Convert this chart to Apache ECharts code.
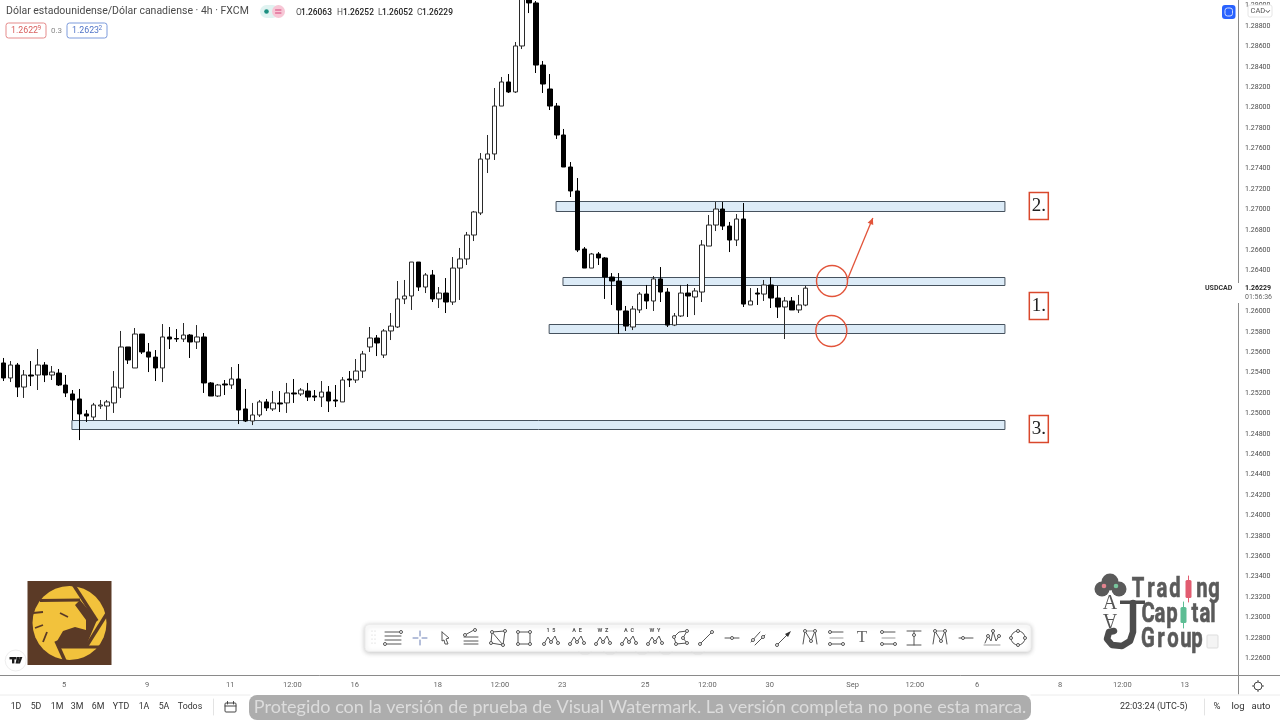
<!DOCTYPE html>
<html>
<head>
<meta charset="utf-8">
<title>USDCAD 4h</title>
<script src="https://cdn.jsdelivr.net/npm/echarts@6/dist/echarts.min.js"></script>
<style>
html, body { margin: 0; padding: 0; background: #fff; }
#chart { width: 1280px; height: 720px; }
</style>
</head>
<body>
<div id="chart"></div>
<script>
// velas de 4h
var opens = [
    1.25495, 1.25348, 1.25475, 1.25259, 1.25377, 1.25377, 1.25475, 1.25377, 1.25396, 1.25279,
    1.25191, 1.25142, 1.24995, 1.24965, 1.25073, 1.25073, 1.25103, 1.25249, 1.25652, 1.25446,
    1.25779, 1.25603, 1.25553, 1.25446, 1.25750, 1.25735, 1.25730, 1.25769, 1.25701, 1.25750,
    1.25299, 1.25171, 1.25289, 1.25279, 1.25338, 1.25044, 1.24926, 1.24985, 1.25113, 1.25044,
    1.25103, 1.25103, 1.25201, 1.25191, 1.25220, 1.25171, 1.25161, 1.25210, 1.25132, 1.25113,
    1.25338, 1.25328, 1.25416, 1.25652, 1.25740, 1.25573, 1.25809, 1.25848, 1.26123, 1.26152,
    1.26485, 1.26240, 1.26358, 1.26123, 1.26181, 1.26093, 1.26426, 1.26515, 1.26750, 1.26966,
    1.27495, 1.27545, 1.28015, 1.28251, 1.28153, 1.28604, 1.29065, 1.29026, 1.28417, 1.28182,
    1.28015, 1.27731, 1.27417, 1.27182, 1.26613, 1.26426, 1.26564, 1.26525, 1.26338, 1.26299,
    1.26005, 1.25848, 1.26015, 1.26171, 1.26103, 1.26319, 1.26191, 1.25867, 1.25956, 1.26181,
    1.26142, 1.26191, 1.26642, 1.26848, 1.27005, 1.26838, 1.26701, 1.26907, 1.26064, 1.26181,
    1.26171, 1.26260, 1.26132, 1.26044, 1.26103, 1.26015, 1.26063
];
var highs = [
    1.25544, 1.25514, 1.25495, 1.25426, 1.25514, 1.25632, 1.25504, 1.25465, 1.25436, 1.25377,
    1.25230, 1.25240, 1.25034, 1.25103, 1.25132, 1.25132, 1.25416, 1.25809, 1.25652, 1.25838,
    1.25779, 1.25691, 1.25622, 1.25877, 1.25848, 1.25828, 1.25887, 1.25779, 1.25867, 1.25789,
    1.25308, 1.25289, 1.25328, 1.25455, 1.25485, 1.25240, 1.25103, 1.25132, 1.25142, 1.25220,
    1.25220, 1.25299, 1.25338, 1.25249, 1.25299, 1.25230, 1.25318, 1.25269, 1.25279, 1.25357,
    1.25416, 1.25534, 1.25613, 1.25848, 1.25769, 1.25828, 1.25985, 1.26299, 1.26309, 1.26485,
    1.26485, 1.26377, 1.26407, 1.26240, 1.26328, 1.26534, 1.26623, 1.26780, 1.26986, 1.27554,
    1.27731, 1.28192, 1.28300, 1.28329, 1.28643, 1.29202, 1.29104, 1.29045, 1.28457, 1.28329,
    1.28045, 1.27790, 1.27466, 1.27309, 1.26632, 1.26574, 1.26583, 1.26534, 1.26377, 1.26377,
    1.26054, 1.26054, 1.26191, 1.26260, 1.26348, 1.26436, 1.26230, 1.25985, 1.26260, 1.26269,
    1.26230, 1.26701, 1.26946, 1.27074, 1.27074, 1.26878, 1.26956, 1.27064, 1.26230, 1.26230,
    1.26309, 1.26338, 1.26250, 1.26142, 1.26142, 1.26162, 1.26252
];
var lows = [
    1.25318, 1.25308, 1.25161, 1.25152, 1.25269, 1.25230, 1.25308, 1.25328, 1.25269, 1.25161,
    1.24935, 1.24739, 1.24916, 1.24935, 1.25044, 1.24935, 1.25005, 1.25152, 1.25485, 1.25446,
    1.25583, 1.25406, 1.25318, 1.25308, 1.25632, 1.25701, 1.25701, 1.25544, 1.25632, 1.25201,
    1.25171, 1.25161, 1.25181, 1.25240, 1.24896, 1.24916, 1.24886, 1.24965, 1.25024, 1.25024,
    1.25014, 1.25005, 1.25103, 1.25171, 1.25122, 1.25122, 1.25063, 1.25014, 1.25063, 1.25113,
    1.25259, 1.25299, 1.25348, 1.25603, 1.25563, 1.25544, 1.25720, 1.25838, 1.26073, 1.26015,
    1.26201, 1.26181, 1.26093, 1.26034, 1.25985, 1.26064, 1.26113, 1.26456, 1.26691, 1.26946,
    1.27358, 1.27486, 1.28015, 1.28143, 1.28143, 1.28574, 1.28927, 1.28339, 1.28143, 1.27976,
    1.27692, 1.27417, 1.27123, 1.26583, 1.26426, 1.26426, 1.26456, 1.26123, 1.26064, 1.25779,
    1.25809, 1.25818, 1.25985, 1.26024, 1.26005, 1.26093, 1.25848, 1.25857, 1.25946, 1.25946,
    1.25965, 1.26093, 1.26642, 1.26789, 1.26799, 1.26583, 1.26642, 1.26044, 1.26064, 1.26064,
    1.26103, 1.26034, 1.25936, 1.25730, 1.26015, 1.25985, 1.26052
];
var closes = [
    1.25348, 1.25475, 1.25259, 1.25377, 1.25367, 1.25475, 1.25377, 1.25406, 1.25279, 1.25201,
    1.25132, 1.24995, 1.24975, 1.25083, 1.25083, 1.25113, 1.25259, 1.25652, 1.25524, 1.25779,
    1.25603, 1.25553, 1.25446, 1.25750, 1.25730, 1.25730, 1.25769, 1.25701, 1.25750, 1.25299,
    1.25171, 1.25279, 1.25279, 1.25338, 1.25034, 1.24926, 1.24985, 1.25113, 1.25054, 1.25103,
    1.25093, 1.25201, 1.25191, 1.25230, 1.25161, 1.25161, 1.25210, 1.25122, 1.25122, 1.25328,
    1.25328, 1.25416, 1.25583, 1.25740, 1.25691, 1.25809, 1.25857, 1.26123, 1.26152, 1.26485,
    1.26240, 1.26358, 1.26123, 1.26181, 1.26093, 1.26426, 1.26515, 1.26750, 1.26976, 1.27495,
    1.27545, 1.28015, 1.28251, 1.28153, 1.28604, 1.29104, 1.29026, 1.28417, 1.28231, 1.28015,
    1.27731, 1.27417, 1.27182, 1.26603, 1.26426, 1.26564, 1.26525, 1.26338, 1.26299, 1.26015,
    1.25857, 1.26024, 1.26171, 1.26103, 1.26319, 1.26191, 1.25867, 1.25956, 1.26181, 1.26152,
    1.26201, 1.26652, 1.26848, 1.27005, 1.26838, 1.26701, 1.26907, 1.26073, 1.26103, 1.26171,
    1.26260, 1.26132, 1.26044, 1.26103, 1.26015, 1.26064, 1.26229
];

// eje de tiempo: posicion de cada etiqueta en numero de barra
var timeTickBars = [9, 21, 33, 42, 51, 63, 72, 81, 93, 102, 111, 123, 132, 141, 153, 162, 171];
var timeTickLabels = ['5', '9', '11', '12:00', '16', '18', '12:00', '23', '25', '12:00', '30', 'Sep', '12:00', '6', '8', '12:00', '13'];
var barCount = 179;

var priceTicks = [
    1.29, 1.288, 1.286, 1.284, 1.282, 1.28, 1.278, 1.276, 1.274, 1.272, 1.27,
    1.268, 1.266, 1.264, 1.262, 1.26, 1.258, 1.256, 1.254, 1.252, 1.25, 1.248,
    1.246, 1.244, 1.242, 1.24, 1.238, 1.236, 1.234, 1.232, 1.23, 1.228, 1.226
];

// zonas: barra inicio, barra fin, precio alto, precio bajo
var zones = [
    [78.9, 144.8, 1.25877, 1.25789],
    [79.9, 144.8, 1.27084, 1.26986],
    [80.9, 144.8, 1.26338, 1.26260],
    [9.9, 144.8, 1.24935, 1.24847]
];
// circulos: barra, precio
var circles = [[119.8, 1.26299], [119.7, 1.25809]];
// flecha: barra y precio de inicio, barra y precio de fin
var arrows = [[122.0, 1.26309, 125.7, 1.26917]];
// etiquetas numeradas: barra, precio, texto
var zoneTags = [[149.7, 1.27035, '2.'], [149.7, 1.26054, '1.'], [149.7, 1.24847, '3.']];

var rangeButtons = [['1D', 16], ['5D', 36], ['1M', 57], ['3M', 77], ['6M', 98], ['YTD', 121], ['1A', 144], ['5A', 164], ['Todos', 190]];
var toolbarX = [393, 420, 445, 471, 498, 524, 551, 577, 603, 629, 655, 681, 706, 732, 758, 784, 810, 836, 862, 888, 914, 940, 966, 992, 1018];
var waveLetters = { 551: '1  5', 577: 'A  E', 603: 'W  Z', 629: 'A  C', 655: 'W  Y' };

var RED = '#e2543a';
var uiFont = 'Roboto, "Noto Sans", sans-serif';

var categories = [];
for (var i = 0; i < barCount; i++) {
    categories.push('');
}
timeTickBars.forEach(function (b, k) {
    categories[b] = timeTickLabels[k];
});

var candleData = opens.map(function (o, k) {
    return [o, closes[k], lows[k], highs[k]];
});

var els = [];

function txt(s, x, y, size, color, opt) {
    opt = opt || {};
    els.push({
        type: 'text', z: opt.z || 100, silent: true,
        style: {
            text: s, x: x, y: y, fill: color,
            font: (opt.weight || 'normal') + ' ' + size + 'px ' + (opt.family || uiFont),
            align: opt.align || 'left', verticalAlign: 'middle'
        }
    });
}
function rect(x, y, w, h, fill, stroke, r, lw, extra) {
    var e = {
        type: 'rect', z: (extra && extra.z) || 100, silent: true,
        shape: { x: x, y: y, width: w, height: h, r: r || 0 },
        style: { fill: fill, stroke: stroke || null, lineWidth: lw || 1 }
    };
    if (extra) {
        for (var k in extra) {
            if (k !== 'z') e.style[k] = extra[k];
        }
    }
    els.push(e);
}
function line(pts, color, lw, z) {
    els.push({
        type: 'polyline', z: z || 101, silent: true,
        shape: { points: pts },
        style: { stroke: color || '#555', fill: null, lineWidth: lw || 1, lineJoin: 'round', lineCap: 'round' }
    });
}
function poly(pts, fill, z) {
    els.push({
        type: 'polygon', z: z || 101, silent: true,
        shape: { points: pts },
        style: { fill: fill }
    });
}
function dot(x, y, r, fill, stroke, z) {
    els.push({
        type: 'circle', z: z || 102, silent: true,
        shape: { cx: x, cy: y, r: r },
        style: { fill: fill, stroke: stroke || null, lineWidth: 1 }
    });
}
function node(x, y) {
    dot(x, y, 1.5, '#fff', '#555');
}

// cabecera
txt('Dólar estadounidense/Dólar canadiense · 4h · FXCM', 6, 11.5, 10.5, '#4a4a4a');
rect(260, 5, 19, 13, '#e0f3f1', null, 6.5);
rect(272, 5, 13, 13, '#f7c6d5', null, 6.5);
dot(266.5, 11.5, 2.3, '#1b8f80');
line([[275.5, 10], [281, 10]], '#d6457a');
line([[275.5, 13], [281, 13]], '#d6457a');
txt('O', 296, 12.5, 8.4, '#555');
txt('1.26063', 301, 12.5, 8.4, '#222', { weight: '500' });
txt('H', 337, 12.5, 8.4, '#555');
txt('1.26252', 343, 12.5, 8.4, '#222', { weight: '500' });
txt('L', 378, 12.5, 8.4, '#555');
txt('1.26052', 382, 12.5, 8.4, '#222', { weight: '500' });
txt('C', 417, 12.5, 8.4, '#555');
txt('1.26229', 422, 12.5, 8.4, '#222', { weight: '500' });
rect(6, 23, 40, 15, '#fff', '#e58b8b', 2.5);
txt('1.2622', 11, 30.5, 8.8, '#d9605f');
txt('9', 37.5, 28.5, 6.5, '#d9605f');
txt('0.3', 51, 30.5, 8, '#888');
rect(67, 23, 40, 15, '#fff', '#7d9bdc', 2.5);
txt('1.2623', 72, 30.5, 8.8, '#5074c8');
txt('2', 98.5, 28.5, 6.5, '#5074c8');

// botones arriba a la derecha
rect(1222, 5, 13.5, 14, '#2962ff', null, 3);
rect(1225, 8, 7.5, 8, null, '#cfdcff', 2.5);
rect(1248, 5, 24, 12, '#fff', '#e6e6e6', 2);
txt('CAD', 1250.5, 11.5, 7.5, '#555');
line([[1266, 10.5], [1267.8, 12.5], [1269.6, 10.5]], '#555');

// precio actual sobre el eje
rect(1236, 283, 44, 20, '#fff');
txt('USDCAD', 1205, 288.5, 7, '#333', { weight: 'bold' });
txt('1.26229', 1245, 288.5, 7, '#222', { weight: 'bold' });
txt('01:56:36', 1245, 297.5, 7, '#666');

// lineas de los ejes
line([[0, 675.5], [1280, 675.5]], '#8a8a8a');
line([[1238.5, 675], [1238.5, 694]], '#8a8a8a');
line([[0, 695], [250, 695]], '#ececec');
line([[1031, 695], [1280, 695]], '#ececec');

// engranaje
dot(1258, 686, 4, '#fff', '#444');
line([[1258, 680.5], [1258, 682]], '#444');
line([[1258, 690], [1258, 691.5]], '#444');
line([[1252.5, 686], [1254, 686]], '#444');
line([[1262, 686], [1263.5, 686]], '#444');

// barra inferior
rangeButtons.forEach(function (b) {
    txt(b[0], b[1], 707, 8.8, '#333', { align: 'center' });
});
line([[213.5, 699], [213.5, 715]], '#e3e3e3');
rect(225, 703, 11, 9, null, '#444', 1);
line([[225, 706], [236, 706]], '#444');
line([[227.5, 701.5], [227.5, 704]], '#444');
line([[233.5, 701.5], [233.5, 704]], '#444');
rect(249, 695, 782, 25, '#adadad', null, 8);
txt('Protegido con la versión de prueba de Visual Watermark. La versión completa no pone esta marca.', 640, 707.5, 18, '#dcdcdc', { align: 'center', family: 'Lato, Roboto, sans-serif' });
txt('22:03:24 (UTC-5)', 1120, 707, 9, '#333');
line([[1204.5, 699], [1204.5, 715]], '#e3e3e3');
txt('%', 1217, 707, 9.5, '#333', { align: 'center' });
txt('log', 1238, 707, 9.5, '#333', { align: 'center' });
txt('auto', 1261, 707, 9.5, '#333', { align: 'center' });

// caja de herramientas
[585, 610, 642, 666, 698].forEach(function (ax) {
    line([[ax - 6, 652], [ax - 3, 654], [ax + 3, 654], [ax + 6, 652]], '#dddddd');
});
rect(365, 624.5, 666, 27, '#fff', '#ececec', 4, 1, { shadowBlur: 5, shadowColor: 'rgba(0,0,0,0.22)', shadowOffsetY: 1 });
[631, 635, 639, 643].forEach(function (yy) {
    dot(372, yy, 0.6, '#ccc');
    dot(375, yy, 0.6, '#ccc');
});
toolbarX.forEach(function (cx, k) {
    var c = 638;
    if (k === 0) {
        line([[cx - 8, c - 6], [cx + 8, c - 6]]);
        line([[cx - 8, c - 2], [cx + 8, c - 2]]);
        line([[cx - 8, c + 2], [cx + 8, c + 2]]);
        line([[cx - 6, c + 6], [cx + 8, c + 6]]);
        node(cx + 8, c - 6);
        node(cx - 8, c + 6);
    } else if (k === 1) {
        line([[cx - 7, c], [cx - 2, c]], '#6b7fb5');
        line([[cx + 2, c], [cx + 7, c]], '#6b7fb5');
        line([[cx, c - 7], [cx, c - 2]], '#6b7fb5');
        line([[cx, c + 2], [cx, c + 7]], '#6b7fb5');
    } else if (k === 2) {
        line([[cx - 3, c - 6], [cx + 4, c], [cx + 1, c + 1], [cx + 3, c + 6], [cx, c + 6], [cx - 1, c + 2], [cx - 3, c + 3], [cx - 3, c - 6]]);
    } else if (k === 3) {
        line([[cx - 7, c - 1], [cx + 7, c - 1]]);
        line([[cx - 7, c + 3], [cx + 7, c + 3]]);
        line([[cx - 7, c + 6], [cx + 7, c + 6]]);
        line([[cx - 6, c - 3], [cx + 3, c - 8]]);
        node(cx - 6, c - 3);
        node(cx + 4, c - 8);
    } else if (k === 4) {
        line([[cx - 6, c - 6], [cx + 7, c - 7], [cx + 5, c + 7], [cx - 7, c + 5], [cx - 6, c - 6]]);
        line([[cx - 6, c - 6], [cx + 5, c + 7]]);
        node(cx - 6, c - 6); node(cx + 7, c - 7); node(cx + 5, c + 7); node(cx - 7, c + 5);
    } else if (k === 5) {
        line([[cx - 6, c - 6], [cx + 6, c - 6], [cx + 6, c + 6], [cx - 6, c + 6], [cx - 6, c - 6]]);
        node(cx - 6, c - 6); node(cx + 6, c - 6); node(cx + 6, c + 6); node(cx - 6, c + 6);
    } else if (k >= 6 && k <= 10) {
        line([[cx - 7, c + 6], [cx - 3, c - 1], [cx, c + 4], [cx + 4, c - 2], [cx + 7, c + 5]]);
        node(cx - 7, c + 6); node(cx + 7, c + 5); node(cx, c + 4);
        txt(waveLetters[cx], cx, c - 7, 5.5, '#555', { align: 'center', weight: 'bold' });
    } else if (k === 11) {
        line([[cx - 7, c - 1], [cx - 2, c - 6], [cx + 6, c - 7], [cx + 2, c], [cx + 6, c + 5], [cx - 5, c + 6], [cx - 7, c - 1]]);
        node(cx - 7, c - 1); node(cx + 6, c - 7); node(cx + 2, c); node(cx - 5, c + 6); node(cx + 6, c + 5);
    } else if (k === 12) {
        line([[cx - 6, c + 6], [cx + 6, c - 6]]);
        node(cx - 6, c + 6); node(cx + 6, c - 6);
    } else if (k === 13 || k === 22) {
        line([[cx - 7, c], [cx + 7, c]]);
        node(k === 13 ? cx : cx - 3, c);
    } else if (k === 14) {
        line([[cx - 7, c + 4], [cx + 2, c - 6]]);
        line([[cx - 3, c + 7], [cx + 7, c - 3]]);
        node(cx - 5, c + 2); node(cx + 5, c - 1);
    } else if (k === 15) {
        line([[cx - 7, c + 7], [cx + 5, c - 5]]);
        poly([[cx + 7, c - 7], [cx + 1, c - 4], [cx + 4, c - 1]], '#333');
        node(cx - 7, c + 7);
    } else if (k === 16 || k === 21) {
        line([[cx - 7, c + 6], [cx - 5, c - 7], [cx + 1, c + 3], [cx + 5, c - 7], [cx + 7, c + 6]]);
        line([[cx - 5, c - 7], [cx + 5, c - 7]], '#999');
        node(cx - 5, c - 7); node(cx + 5, c - 7); node(cx + 1, c + 3);
    } else if (k === 17 || k === 19) {
        line([[cx - 6, c - 6], [cx + 7, c - 6]]);
        line([[cx - 6, c], [cx + 7, c]], '#999');
        line([[cx - 6, c + 6], [cx + 7, c + 6]]);
        node(cx - 6, c - 6); node(cx - 6, c + 6); node(cx + 7, c + 6);
    } else if (k === 18) {
        txt('T', cx, c, 17, '#666', { align: 'center', family: '"Liberation Serif", serif' });
    } else if (k === 20) {
        line([[cx - 7, c - 7], [cx + 7, c - 7]]);
        line([[cx, c - 7], [cx, c + 7]]);
        line([[cx - 7, c + 7], [cx + 7, c + 7]]);
        node(cx, c - 3);
    } else if (k === 23) {
        line([[cx - 8, c + 7], [cx + 8, c + 7]], '#999');
        line([[cx - 7, c + 5], [cx - 4, c - 2], [cx - 1, c + 3], [cx + 1, c - 7], [cx + 4, c + 3], [cx + 7, c - 2]]);
        node(cx + 1, c - 7); node(cx - 4, c - 2); node(cx + 7, c - 2);
    } else if (k === 24) {
        dot(cx, c, 7, null, '#555');
        node(cx - 7, c); node(cx + 7, c); node(cx, c - 7); node(cx, c + 7);
    }
});

// logo del aguila
var brown = '#5b3a26';
rect(27.5, 581, 84, 84, brown);
dot(69.5, 623, 37, '#f2c23c');
function eagleSlit(x1, y1, x2, y2, w) {
    els.push({
        type: 'line', z: 103, silent: true,
        shape: { x1: x1, y1: y1, x2: x2, y2: y2 },
        style: { stroke: brown, lineWidth: w }
    });
}
poly([[80, 600], [97, 620], [86, 646], [58, 648], [56.5, 642], [63, 631], [75, 627], [86, 630], [86, 620], [75, 605]], brown, 103);
eagleSlit(40, 600.5, 80, 600, 3);
eagleSlit(73, 584, 97, 621, 3.5);
eagleSlit(108, 612, 86, 647, 3.5);
eagleSlit(58, 647, 99, 647, 3);
eagleSlit(56, 641, 65, 661, 3.5);
eagleSlit(33, 613, 43, 612, 1.8);
eagleSlit(35, 628, 43, 625, 1.8);
eagleSlit(43, 642, 47, 632, 1.8);
eagleSlit(60, 613, 68, 617, 1.8);

// insignia TV
dot(15.7, 660.5, 10.5, '#fff', '#eeeeee');
rect(9.5, 657, 7, 2.4, '#1a1a1a', null, 0, 1, { z: 103 });
rect(12, 657, 2.4, 6.4, '#1a1a1a', null, 0, 1, { z: 103 });
poly([[17, 657], [19.8, 657], [18, 663.4], [15.5, 663.4]], '#1a1a1a', 103);
poly([[19.8, 657], [22.4, 657], [20, 663.4], [17.8, 663.4]], '#1a1a1a', 103);

// logo Trading Capital Group
var grey = '#5a5a5a';
dot(1110, 582, 8.5, grey);
dot(1102, 589, 7.5, grey);
dot(1119, 589, 7.5, grey);
dot(1104, 586, 2.3, '#e2848f');
dot(1116, 586, 2.3, '#79c69d');
txt('A', 1110, 604, 20, '#555', { align: 'center', family: '"Liberation Serif", serif' });
els.push({
    type: 'text', z: 100, silent: true, x: 1110, y: 619, rotation: Math.PI,
    style: { text: 'A', x: 0, y: 0, fill: '#555', font: '20px "Liberation Serif", serif', align: 'center', verticalAlign: 'middle' }
});
line([[1133, 603], [1133, 632], [1130, 641], [1122, 646], [1112, 645], [1107, 639], [1109, 632], [1114, 631]], '#4c4c4c', 6.5);
rect(1120, 600.5, 25, 3.5, '#4c4c4c');
function tcgWord(letters, xs, y) {
    letters.forEach(function (ch, k) {
        if (ch === '') return;
        els.push({
            type: 'text', z: 100, silent: true, x: xs[k], y: y, scaleX: 0.75,
            style: {
                text: ch, x: 0, y: 0, fill: grey, stroke: grey, lineWidth: 0.6,
                font: 'bold 27px Roboto, sans-serif', align: 'center', verticalAlign: 'middle'
            }
        });
    });
}
tcgWord(['T', 'r', 'a', 'd', '', 'n', 'g'], [1138, 1151, 1162, 1175, 1188, 1202, 1214], 590);
tcgWord(['C', 'a', 'p', '', 't', 'a', 'l'], [1148, 1160, 1172, 1183, 1195, 1205, 1213], 615);
tcgWord(['G', 'r', 'o', 'u', 'p'], [1148, 1161, 1173, 1186, 1197], 640);
line([[1188.5, 576], [1188.5, 602]], '#e25c70');
rect(1185.5, 580, 6, 18, '#e25c70', null, 1.5);
line([[1183.5, 602], [1183.5, 628]], '#5dbd94');
rect(1180.5, 607, 6, 16, '#5dbd94', null, 1.5);
rect(1207, 635, 11, 13, '#f4f4f4', '#dddddd', 1);

var chart = echarts.init(document.getElementById('chart'));

function renderZone(params, api) {
    var a = api.coord([api.value(0), api.value(2)]);
    var b = api.coord([api.value(1), api.value(3)]);
    return {
        type: 'rect',
        shape: { x: a[0], y: Math.round(a[1]) + 0.5, width: b[0] - a[0], height: Math.round(b[1] - a[1]) },
        style: { fill: '#dcebf7', stroke: '#46525e', lineWidth: 1 }
    };
}
function renderCircle(params, api) {
    var p = api.coord([api.value(0), api.value(1)]);
    return {
        type: 'circle',
        shape: { cx: p[0], cy: p[1], r: 15.5 },
        style: { fill: null, stroke: RED, lineWidth: 1.4 }
    };
}
function renderArrow(params, api) {
    var a = api.coord([api.value(0), api.value(1)]);
    var b = api.coord([api.value(2), api.value(3)]);
    var ang = Math.atan2(b[1] - a[1], b[0] - a[0]);
    var head = [[b[0], b[1]]];
    [-0.45, 0.45].forEach(function (d) {
        head.push([b[0] - 7 * Math.cos(ang + d), b[1] - 7 * Math.sin(ang + d)]);
    });
    return {
        type: 'group',
        children: [
            { type: 'line', shape: { x1: a[0], y1: a[1], x2: b[0], y2: b[1] }, style: { stroke: RED, lineWidth: 1.3 } },
            { type: 'polygon', shape: { points: head }, style: { fill: RED } }
        ]
    };
}
function renderTag(params, api) {
    var p = api.coord([api.value(0), api.value(1)]);
    return {
        type: 'group',
        children: [
            { type: 'rect', shape: { x: p[0] - 9.5, y: p[1] - 13.5, width: 19, height: 27 }, style: { fill: '#fff', stroke: '#d9482c', lineWidth: 1.5 } },
            { type: 'text', x: p[0], y: p[1], style: { text: api.value(2), fill: '#222', font: '19px "Liberation Serif", serif', align: 'center', verticalAlign: 'middle' } }
        ]
    };
}

var option = {
    animation: false,
    backgroundColor: '#fff',
    grid: { left: 0, top: 0, width: 1238, height: 676 },
    xAxis: [{
        type: 'category',
        data: categories,
        boundaryGap: true,
        axisLine: { show: false },
        axisTick: { show: false },
        splitLine: { show: false },
        axisLabel: {
            color: '#666',
            fontSize: 7.5,
            fontFamily: uiFont,
            margin: 5,
            padding: [0, 3, 0, 0],
            interval: function (idx) {
                return categories[idx] !== '';
            }
        }
    }, {
        type: 'value',
        min: -0.5,
        max: barCount - 0.5,
        show: false
    }],
    yAxis: [{
        type: 'value',
        position: 'right',
        min: 1.22425,
        max: 1.29055,
        axisLine: { show: true, onZero: false, lineStyle: { color: '#8a8a8a', width: 1 } },
        axisTick: { show: false },
        splitLine: { show: false },
        axisLabel: {
            color: '#4a4a4a',
            fontSize: 7,
            fontFamily: uiFont,
            margin: 7,
            padding: [2, 0, 0, 0],
            customValues: priceTicks,
            formatter: function (v) {
                return v.toFixed(5);
            }
        }
    }],
    series: [{
        type: 'custom',
        xAxisIndex: 1,
        yAxisIndex: 0,
        z: 1,
        silent: true,
        data: zones,
        encode: { x: [0, 1], y: [2, 3] },
        renderItem: renderZone
    }, {
        type: 'candlestick',
        xAxisIndex: 0,
        yAxisIndex: 0,
        z: 2,
        barWidth: 5,
        data: candleData,
        itemStyle: {
            color: '#ffffff',
            color0: '#000000',
            borderColor: '#2a2a2a',
            borderColor0: '#000000',
            borderWidth: 1
        }
    }, {
        type: 'custom',
        xAxisIndex: 1,
        yAxisIndex: 0,
        z: 3,
        silent: true,
        data: circles,
        encode: { x: 0, y: 1 },
        renderItem: renderCircle
    }, {
        type: 'custom',
        xAxisIndex: 1,
        yAxisIndex: 0,
        z: 3,
        silent: true,
        data: arrows,
        encode: { x: [0, 2], y: [1, 3] },
        renderItem: renderArrow
    }, {
        type: 'custom',
        xAxisIndex: 1,
        yAxisIndex: 0,
        z: 3,
        silent: true,
        dimensions: ['bar', 'price', { name: 'tag', type: 'ordinal' }],
        data: zoneTags,
        encode: { x: 0, y: 1 },
        renderItem: renderTag
    }],
    graphic: { elements: els }
};
chart.setOption(option);
</script>
</body>
</html>
